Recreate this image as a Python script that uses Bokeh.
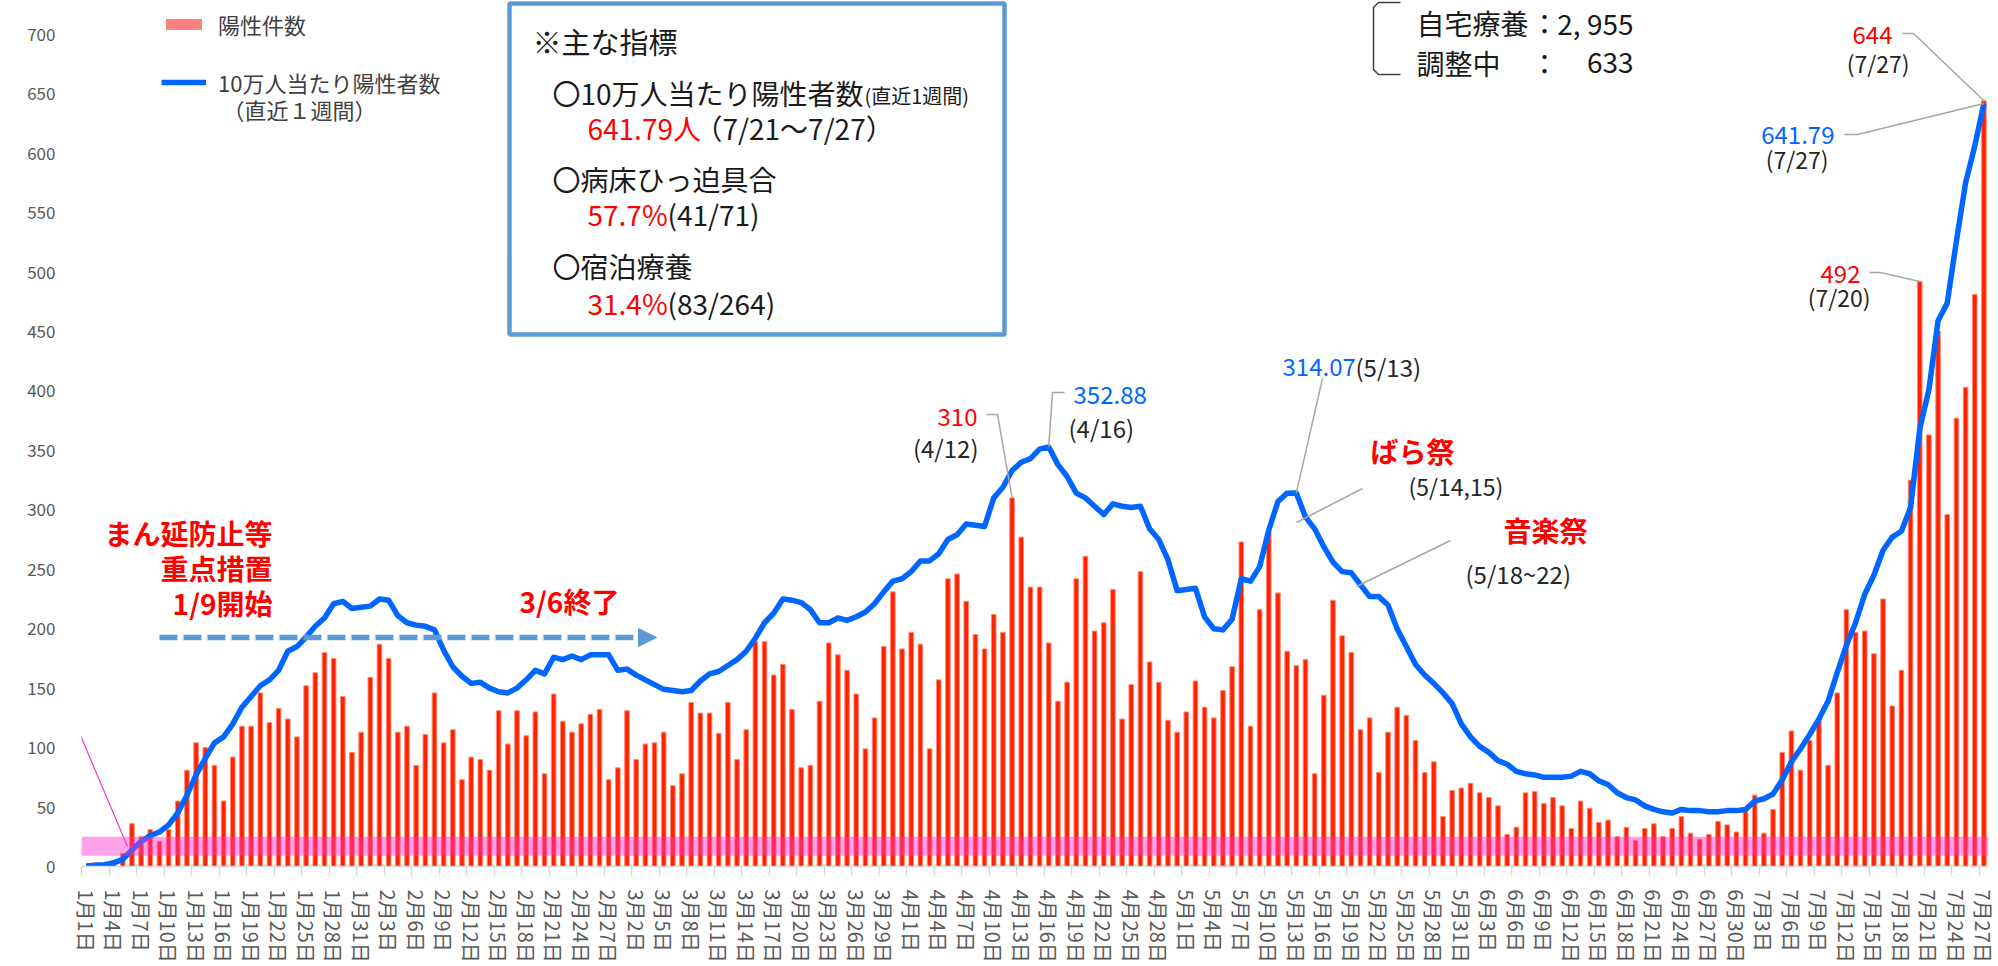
import pandas as pd
from bokeh.plotting import figure
from bokeh.models import (ColumnDataSource, Range1d, FixedTicker, Label, BoxAnnotation,
                          Arrow, NormalHead, Legend, LegendItem)
from bokeh.embed import file_html
from bokeh.resources import INLINE

# ---------------- data ----------------
dates = [f"{d.month}月{d.day}日" for d in pd.date_range("2021-01-01", "2021-07-27")]

pos_jan = [0, 3, 2, 5, 11, 36, 25, 31, 21, 31, 55, 81, 104, 100, 85, 55, 92, 118, 118, 146,
           121, 133, 124, 109, 152, 163, 180, 175, 143, 96, 113]
pos_feb = [159, 187, 175, 113, 118, 85, 111, 146, 104, 115, 73, 92, 90, 81, 131, 103, 131, 110,
           130, 78, 145, 122, 113, 120, 128, 132, 73, 83]
pos_mar = [131, 90, 103, 104, 113, 68, 78, 138, 129, 129, 112, 138, 90, 115, 189, 189, 161, 170,
           132, 83, 85, 139, 188, 178, 165, 145, 99, 125, 185, 231, 183]
pos_apr = [197, 187, 99, 157, 242, 246, 223, 195, 183, 212, 197, 310, 277, 235, 235, 188, 139,
           155, 242, 261, 198, 205, 233, 124, 153, 248, 172, 155, 123, 113]
pos_may = [130, 156, 134, 125, 148, 168, 273, 118, 216, 282, 230, 181, 169, 174, 78, 144, 224,
           194, 180, 115, 125, 79, 113, 134, 127, 106, 79, 88, 42, 64, 66]
pos_jun = [70, 62, 58, 51, 27, 33, 62, 63, 53, 58, 51, 32, 55, 49, 37, 39, 25, 33, 22, 32, 36,
           25, 32, 42, 28, 23, 27, 38, 35, 29]
pos_jul = [46, 60, 28, 48, 96, 114, 81, 106, 124, 85, 146, 216, 197, 198, 179, 225, 135, 165,
           325, 492, 363, 450, 296, 377, 403, 481, 644]

rate_jan = [0.5, 1, 1.5, 3, 6, 14, 21, 26, 29, 35, 45, 60, 77, 91, 104, 109, 120, 134, 143, 152,
            157, 165, 181, 185, 193, 202, 209, 221, 223, 217, 218]
rate_feb = [219, 225, 224, 211, 205, 203, 202, 199, 182, 168, 160, 154, 155, 150, 147, 146, 150,
            157, 165, 162, 176, 174, 177, 174, 178, 178, 178, 165]
rate_mar = [166, 161, 157, 153, 149, 148, 147, 148, 156, 162, 164, 169, 174, 181, 192, 205, 213,
            225, 224, 222, 216, 205, 205, 209, 207, 210, 214, 221, 231, 240, 242]
rate_apr = [248, 257, 257, 263, 275, 279, 288, 287, 286, 310, 319, 333, 340, 343, 351, 352.88,
            338, 328, 314, 310, 303, 296, 305, 303, 302, 303, 284, 275, 258, 232]
rate_may = [233, 234, 210, 200, 199, 208, 242, 240, 252, 283, 307, 314, 314.07, 294, 284, 269,
            256, 248, 247, 237, 227, 227, 220, 200, 185, 170, 161, 154, 146, 137, 120]
rate_jun = [109, 101, 96, 89, 86, 80, 78, 77, 75, 75, 75, 76, 80, 78, 72, 69, 62, 58, 56, 51, 48,
            46, 45, 48, 47, 47, 46, 46, 47, 47]
rate_jul = [48, 55, 57, 61, 73, 88, 99, 111, 124, 139, 163, 186, 205, 229, 245, 266, 277, 282,
            302, 368, 401, 459, 474, 526, 575, 606, 641.79]

y_ticks = list(range(0, 701, 50))

positives = pos_jan + pos_feb + pos_mar + pos_apr + pos_may + pos_jun + pos_jul
per100k = rate_jan + rate_feb + rate_mar + rate_apr + rate_may + rate_jun + rate_jul
idx = list(range(len(dates)))

src = ColumnDataSource(dict(k=idx, date=dates, pos=positives, rate=per100k))

# ---------------- layout helpers (reference pixel -> data) ----------------
W, H = 1998, 966
LEFT, RIGHT, TOP, BOTTOM = 81, 10, 0, 100
FRAME_W, FRAME_H = W - LEFT - RIGHT, H - TOP - BOTTOM
NDAYS = len(dates)
Y_MAX = FRAME_H / 1.189
DAYW = FRAME_W / NDAYS
UNIT = FRAME_H / Y_MAX


def dx(px):
    return (px - LEFT) / DAYW - 0.5


def dy(py):
    return (TOP + FRAME_H - py) / UNIT


FONT = "Noto Sans CJK JP"
RED = "#FF0000"
BLUE = "#0066FF"
DARK = "#262626"
BLACK = "#1A1A1A"

p = figure(width=W, height=H, x_range=Range1d(-0.5, NDAYS - 0.5), y_range=Range1d(0, Y_MAX),
           output_backend="svg", toolbar_location=None,
           min_border_left=LEFT, min_border_right=RIGHT, min_border_top=TOP,
           min_border_bottom=BOTTOM)
p.outline_line_color = None
p.xgrid.visible = False
p.ygrid.visible = False
p.background_fill_color = "white"

bars = p.vbar(x="k", top="pos", width=0.5, source=src, fill_color="#FF2200",
              line_color="#FF8A70", line_width=1)
line_r = p.line(x="k", y="rate", source=src, line_color=BLUE, line_width=5.5,
                line_join="round")
# swatch-only renderer for the legend (a single non-drawn point)
swatch = p.vbar(x=[float("nan")], top=[float("nan")], width=0.5, fill_color="#FF8080",
                line_color=None)

# axes
p.yaxis.ticker = FixedTicker(ticks=y_ticks)
p.yaxis.axis_line_color = None
p.yaxis.major_tick_line_color = None
p.yaxis.major_tick_out = 0
p.yaxis.minor_tick_line_color = None
p.yaxis.major_label_standoff = 26
p.yaxis.major_label_text_font = FONT
p.yaxis.major_label_text_font_size = "17px"
p.yaxis.major_label_text_color = "#595959"

lab_ticks = list(range(0, NDAYS, 3))
p.xaxis.ticker = FixedTicker(ticks=lab_ticks, minor_ticks=[t - 0.5 for t in range(0, NDAYS + 3, 3)])
p.xaxis.major_label_overrides = {t: dates[t] for t in lab_ticks}
p.xaxis.major_label_orientation = "vertical"
p.xaxis.major_tick_out = 0
p.xaxis.major_tick_in = 0
p.xaxis.major_tick_line_color = None
p.xaxis.minor_tick_out = 9
p.xaxis.minor_tick_in = 0
p.xaxis.minor_tick_line_color = "#D9D9D9"
p.xaxis.minor_tick_line_width = 1.5
p.xaxis.axis_line_color = "#D9D9D9"
p.xaxis.axis_line_width = 1.5
p.xaxis.major_label_standoff = 14
p.xaxis.major_label_text_font = FONT
p.xaxis.major_label_text_font_size = "20px"
p.xaxis.major_label_text_color = "#595959"

# pink band
p.add_layout(BoxAnnotation(bottom=9, top=25, fill_color="#FF33CC", fill_alpha=0.45,
                           line_color=None))


def lab(px, py, text, size, color=DARK, align="left", bold=False):
    p.add_layout(Label(x=dx(px), y=dy(py), text=text, text_font=FONT,
                       text_font_size=f"{size}px", text_color=color, text_align=align,
                       text_baseline="middle",
                       text_font_style="bold" if bold else "normal"))


def leader(pts, anchor=None):
    xs = [dx(a) for a, b in pts]
    ys = [dy(b) for a, b in pts]
    if anchor is not None:
        xs.append(anchor[0])
        ys.append(anchor[1])
    p.line(xs, ys, line_color="#A6A6A6", line_width=1.5)


def at(d):
    return dates.index(d)


# text box
p.add_layout(BoxAnnotation(left=dx(509), right=dx(1004), top=dy(3), bottom=dy(334),
                           fill_color="white", fill_alpha=1, line_color="#5B9BD5",
                           line_alpha=1, line_width=4.5))
lab(532, 40, "※主な指標", 29, BLACK)
lab(552, 92, "〇10万人当たり陽性者数", 28, BLACK)
lab(864, 95, "(直近1週間)", 20, BLACK)
lab(587, 127, "641.79人", 28, RED)
lab(694, 127, "（7/21〜7/27）", 28, BLACK)
lab(552, 178, "〇病床ひっ迫具合", 28, BLACK)
lab(587, 213, "57.7%", 28, RED)
lab(667, 213, "(41/71)", 28, BLACK)
lab(552, 265, "〇宿泊療養", 28, BLACK)
lab(587, 302, "31.4%", 28, RED)
lab(667, 302, "(83/264)", 28, BLACK)

# top right info
p.line([dx(1400), dx(1378), dx(1373), dx(1373), dx(1378), dx(1400)],
       [dy(2), dy(2), dy(7), dy(69), dy(74), dy(74)], line_color="#404040", line_width=1.5)
lab(1416, 22, "自宅療養", 28, BLACK)
lab(1544, 22, "：", 28, BLACK, align="center")
lab(1633, 22, "2, 955", 28, BLACK, align="right")
lab(1416, 62, "調整中", 28, BLACK)
lab(1544, 62, "：", 28, BLACK, align="center")
lab(1633, 62, "633", 28, BLACK, align="right")

# measures period
lab(272, 532, "まん延防止等", 28, RED, align="right", bold=True)
lab(272, 567, "重点措置", 28, RED, align="right", bold=True)
lab(272, 602, "1/9開始", 28, RED, align="right", bold=True)
lab(519, 600, "3/6終了", 28, RED, bold=True)
p.add_layout(Arrow(x_start=at("1月9日"), y_start=dy(637), x_end=dx(656), y_end=dy(637),
                   line_color="#5B9BD5", line_width=5.5, line_dash="18 6",
                   end=NormalHead(size=18, fill_color="#5B9BD5", line_color="#5B9BD5",
                                  line_width=1)))

# magenta pointer to band
p.add_layout(Arrow(x_start=dx(0), y_start=dy(546), x_end=dx(127), y_end=dy(846), end=None,
                   line_color="#F03CC8", line_width=1.2))

# peak annotations
k = at("4月12日")
lab(977, 416, "310", 24, RED, align="right")
lab(978, 447, "(4/12)", 24, DARK, align="right")
leader([(986, 414), (997, 414)], (k, positives[k]))

k = at("4月16日")
lab(1073, 394, "352.88", 24, BLUE)
lab(1068, 427, "(4/16)", 24, DARK)
leader([(1064, 392), (1052, 392)], (k, per100k[k]))

k = at("5月13日")
lab(1282, 366, "314.07", 24, BLUE)
lab(1355, 366, "(5/13)", 24, DARK)
leader([(1322, 378)], (k, per100k[k]))

lab(1370, 450, "ばら祭", 28, RED, bold=True)
lab(1408, 485, "(5/14,15)", 23, DARK)
leader([(1362, 488), (1296, 522)])

lab(1503, 529, "音楽祭", 28, RED, bold=True)
lab(1465, 573, "(5/18~22)", 24, DARK)
leader([(1450, 540), (1356, 586)])

k = at("7月20日")
lab(1860, 273, "492", 24, RED, align="right")
lab(1870, 296, "(7/20)", 23, DARK, align="right")
leader([(1869, 272), (1880, 272)], (k, positives[k]))

k = at("7月27日")
lab(1892, 34, "644", 24, RED, align="right")
lab(1909, 62, "(7/27)", 23, DARK, align="right")
leader([(1902, 33), (1913, 33)], (k, positives[k]))
lab(1834, 134, "641.79", 24, BLUE, align="right")
lab(1828, 158, "(7/27)", 23, DARK, align="right")
leader([(1844, 134), (1857, 134)], (k, per100k[k]))

# legend
legend = Legend(items=[LegendItem(label="陽性件数", renderers=[swatch]),
                       LegendItem(label="10万人当たり陽性者数", renderers=[line_r])],
                location=(80, 768), glyph_width=45, glyph_height=14, label_standoff=12,
                spacing=26, padding=0, margin=0, border_line_color=None,
                background_fill_alpha=0, label_text_font=FONT, label_text_font_size="22px",
                label_text_color="#404040")
p.add_layout(legend)
lab(222, 108, "（直近１週間）", 22, "#404040")

open("out.html", "w").write(file_html(p, INLINE))
